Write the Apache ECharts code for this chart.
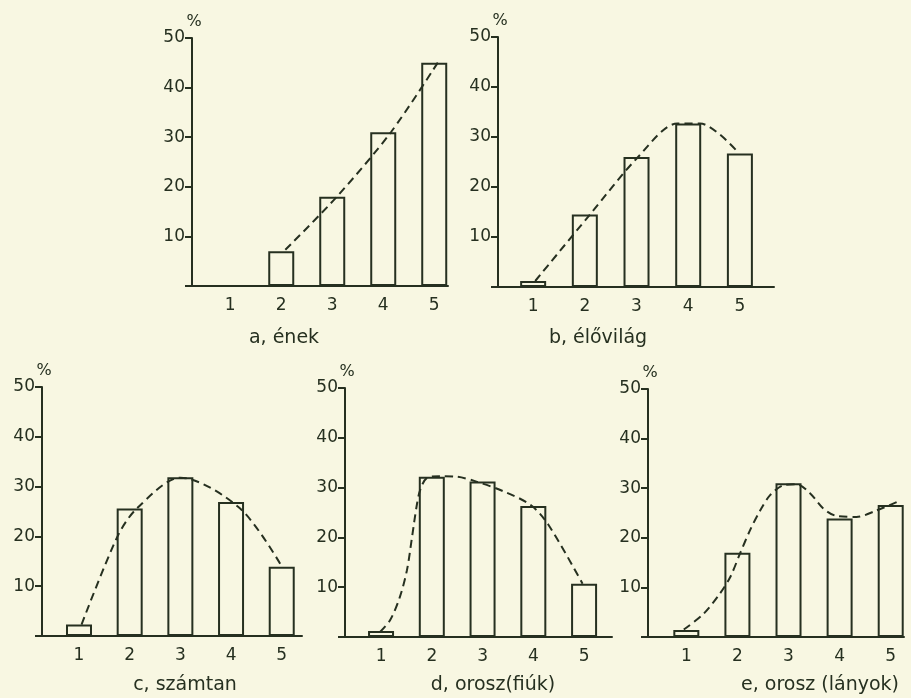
<!DOCTYPE html>
<html>
<head>
<meta charset="utf-8">
<script src="https://cdn.jsdelivr.net/npm/echarts@6/dist/echarts.min.js"></script>
<style>
html,body{margin:0;padding:0;background:#f8f7e2;}
#c{width:911px;height:698px;}
</style>
</head>
<body>
<div id="c"></div>
<script>
// grades (categories)
const grades = [1, 2, 3, 4, 5];
// y tick labels
const yTicks = [10, 20, 30, 40, 50];
// panel titles
const titles = ['a, ének', 'b, élővilág', 'c, számtan', 'd, orosz(fiúk)', 'e, orosz (lányok)'];

// bar values (%) per grade
const enek      = [0, 7, 18, 31, 45];
const elovilag  = [1.2, 14.5, 26, 32.7, 26.7];
const szamtan   = [2.3, 25.6, 31.9, 26.9, 13.9];
const oroszFiuk = [1.2, 32.2, 31.2, 26.3, 10.7];
const oroszLany = [1.4, 17, 31, 23.9, 26.6];

// dashed fitted curves (grade position, %)
const enekCurve      = [[2.08, 7.3], [3.09, 18], [4.15, 31], [5.08, 45.2]];
const elovilagCurve  = [[1.04, 1.2], [2.1, 14.5], [3.03, 26], [3.79, 32.7], [4.23, 32.7], [4.96, 27]];
const szamtanCurve   = [[1.05, 2.3], [1.76, 20], [2.14, 25.6], [3.0, 31.8], [4.18, 25.6], [5.0, 14]];
const oroszFiukCurve = [[0.98, 1.0], [1.18, 3.4], [1.37, 8], [1.51, 13.4], [1.61, 20], [1.70, 26.2], [1.77, 29.5],
                        [1.9, 31.9], [2.16, 32.3], [2.49, 32.2], [2.85, 31.3], [3.4, 29.3], [3.95, 26.5], [4.3, 22.5], [4.97, 10.7]];
const oroszLanyCurve = [[0.95, 1.5], [1.34, 4.7], [1.66, 8.8], [1.86, 12.1], [2.05, 16.8], [2.25, 21.6], [2.45, 25.6],
                        [2.64, 28.6], [2.9, 30.6], [3.16, 30.8], [3.42, 29], [3.68, 25.9], [3.94, 24.4], [4.33, 24.2],
                        [4.72, 25.5], [5.14, 27.3]];

const values = [enek, elovilag, szamtan, oroszFiuk, oroszLany];
const curves = [enekCurve, elovilagCurve, szamtanCurve, oroszFiukCurve, oroszLanyCurve];

// layout (pixels) and x-range per panel
const layout = [
  {left: 192, top: 38,  width: 256, height: 248, xmin: 0.25, xmax: 5.27, tx: 284, ty: 338},
  {left: 498, top: 37,  width: 276, height: 250, xmin: 0.32, xmax: 5.66, tx: 598, ty: 338},
  {left: 42,  top: 387, width: 260, height: 249, xmin: 0.27, xmax: 5.40, tx: 185, ty: 685},
  {left: 345, top: 388, width: 267, height: 249, xmin: 0.29, xmax: 5.55, tx: 493, ty: 685},
  {left: 648, top: 389, width: 256, height: 248, xmin: 0.25, xmax: 5.26, tx: 820, ty: 685}
];

const ink = '#263020';
const font = 'DejaVu Sans';

const grid = [], xAxis = [], yAxis = [], series = [], graphic = [];
layout.forEach((L, i) => {
  grid.push({left: L.left, top: L.top, width: L.width, height: L.height});
  xAxis.push({
    type: 'value', gridIndex: i, min: L.xmin, max: L.xmax,
    axisLine: {show: true, onZero: false, lineStyle: {color: ink, width: 2}},
    axisTick: {show: false},
    splitLine: {show: false},
    axisLabel: {
      customValues: grades,
      margin: 11, color: ink, fontFamily: font, fontSize: 17,
      formatter: v => (Math.abs(v - Math.round(v)) < 1e-6 && v >= 1 && v <= 5) ? String(Math.round(v)) : ''
    }
  });
  yAxis.push({
    type: 'value', gridIndex: i, min: 0, max: 50, interval: 10,
    name: '%', nameLocation: 'end', nameGap: 5,
    nameTextStyle: {color: ink, fontFamily: font, fontSize: 16, align: 'center', verticalAlign: 'bottom', padding: [0, 0, 0, 4]},
    axisLine: {show: true, lineStyle: {color: ink, width: 2}},
    axisTick: {show: true, length: 7, lineStyle: {color: ink, width: 2}},
    splitLine: {show: false},
    axisLabel: {
      margin: 7, color: ink, fontFamily: font, fontSize: 17,
      formatter: v => (yTicks.indexOf(v) >= 0 ? String(v) : '')
    }
  });
  series.push({
    type: 'bar', xAxisIndex: i, yAxisIndex: i, barWidth: 26,
    data: grades.map((g, k) => values[i][k] > 0 ? [g, values[i][k]] : null).filter(d => d),
    itemStyle: {color: 'rgba(0,0,0,0)', borderColor: ink, borderWidth: 2},
    silent: true
  });
  series.push({
    type: 'line', xAxisIndex: i, yAxisIndex: i, smooth: 0.3,
    showSymbol: false, symbol: 'none', z: 5,
    data: curves[i],
    lineStyle: {color: ink, width: 2, type: [8, 5]}
  });
  graphic.push({
    type: 'text', x: L.tx, y: L.ty,
    style: {text: titles[i], fill: ink, font: '19px "' + font + '"', textAlign: 'center', textVerticalAlign: 'middle'}
  });
});

const chart = echarts.init(document.getElementById('c'));
chart.setOption({
  backgroundColor: '#f8f7e2',
  animation: false,
  grid, xAxis, yAxis, series, graphic
});
</script>
</body>
</html>
